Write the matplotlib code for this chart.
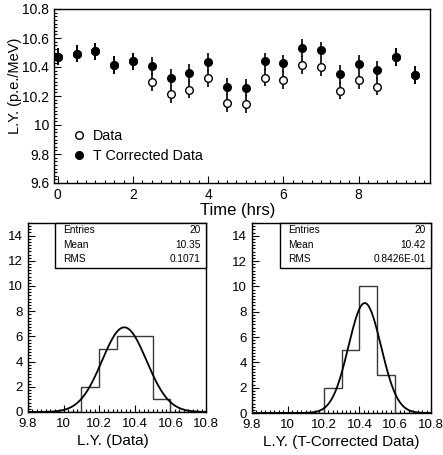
import numpy as np
import matplotlib
matplotlib.use("Agg")
import matplotlib.pyplot as plt
from matplotlib.ticker import MultipleLocator, FuncFormatter
from matplotlib.patches import Rectangle

plt.rcParams['font.family'] = ['Liberation Sans', 'DejaVu Sans']

# time points (hrs)
time_hrs = [0, 0.5, 1, 1.5, 2, 2.5, 3, 3.5, 4, 4.5, 5, 5.5, 6, 6.5, 7, 7.5, 8, 8.5, 9, 9.5]
# light yield, raw data
ly_data = [10.472, 10.493, 10.507, 10.415, 10.438, 10.297, 10.212, 10.244, 10.322, 10.152,
           10.145, 10.327, 10.311, 10.415, 10.398, 10.237, 10.308, 10.265, 10.468, 10.345]
# light yield, temperature corrected
ly_corr = [10.472, 10.493, 10.507, 10.415, 10.438, 10.408, 10.327, 10.359, 10.435, 10.265,
           10.258, 10.438, 10.426, 10.530, 10.514, 10.352, 10.424, 10.378, 10.468, 10.345]
ly_err = [0.06] * 20

hist_bins = [9.8 + 0.1 * i for i in range(11)]

# gaussian fit parameters (amplitude, mean, sigma)
fit_data = (6.72, 10.341, 0.125)
fit_corr = (8.68, 10.43, 0.091)

stats_data = [("Entries", "20"), ("Mean", "10.35"), ("RMS", "0.1071")]
stats_corr = [("Entries", "20"), ("Mean", "10.42"), ("RMS", "0.8426E-01")]

W, H = 443, 455
fig = plt.figure(figsize=(W / 100, H / 100), dpi=100)

def px_axes(l, t, r, b):
    return fig.add_axes([l / W, 1 - b / H, (r - l) / W, (b - t) / H])

fmt = FuncFormatter(lambda v, p: "%g" % round(v, 3))

def root_ticks(ax, size=10):
    ax.tick_params(which='both', direction='in', top=False, right=False, labelsize=size)
    ax.tick_params(which='major', length=5, width=0.8)
    ax.tick_params(which='minor', length=2.5, width=0.8)
    for s in ax.spines.values():
        s.set_linewidth(1.0)

# ---- top panel: L.Y. vs time
ax = px_axes(54, 9, 430, 183)
ax.errorbar(time_hrs, ly_data, yerr=ly_err, fmt='o', ms=5.5, mfc='white', mec='black',
            mew=1.0, ecolor='black', elinewidth=1.2, capsize=0, label='Data')
ax.errorbar(time_hrs, ly_corr, yerr=ly_err, fmt='o', ms=5.5, mfc='black', mec='black',
            ecolor='black', elinewidth=1.2, capsize=0, label='T Corrected Data')
ax.set_xlim(-0.1, 9.9)
ax.set_ylim(9.6, 10.8)
ax.xaxis.set_major_locator(MultipleLocator(2))
ax.xaxis.set_minor_locator(MultipleLocator(0.25))
ax.yaxis.set_major_locator(MultipleLocator(0.2))
ax.yaxis.set_minor_locator(MultipleLocator(0.025))
ax.yaxis.set_major_formatter(fmt)
root_ticks(ax)
ax.set_xlabel("Time (hrs)", fontsize=12)
ax.xaxis.set_label_coords(0.489, -0.115)
ax.set_ylabel("L.Y. (p.e./MeV)", fontsize=10.5)
ax.yaxis.set_label_coords(-0.085, 0.56)
h, l = ax.get_legend_handles_labels()
h = [x[0] for x in h]
ax.legend(h, l, loc='upper left', bbox_to_anchor=(0.02, 0.37), frameon=False,
          fontsize=10.3, handlelength=1.0, handletextpad=0.5, labelspacing=0.45,
          borderpad=0.2)

def hist_panel(ax, values, fit, stats, xlabel, box_left, label_x):
    ax.hist(values, bins=hist_bins, histtype='step', color='#3a3a3a', lw=1.0)
    xs = np.linspace(9.8, 10.8, 400)
    a, m, s = fit
    ax.plot(xs, a * np.exp(-0.5 * ((xs - m) / s) ** 2), color='black', lw=1.3)
    ax.set_xlim(9.8, 10.8)
    ax.set_ylim(0, 15)
    ax.xaxis.set_major_locator(MultipleLocator(0.2))
    ax.xaxis.set_minor_locator(MultipleLocator(0.025))
    ax.yaxis.set_major_locator(MultipleLocator(2))
    ax.yaxis.set_minor_locator(MultipleLocator(0.25))
    ax.xaxis.set_major_formatter(fmt)
    root_ticks(ax, 9.5)
    ax.tick_params(axis='x', pad=4.5)
    ax.add_patch(Rectangle((box_left, 0.762), 1 - box_left, 0.238, transform=ax.transAxes,
                           facecolor='white', edgecolor='black', lw=1.0, clip_on=False, zorder=5))
    for i, (k, v) in enumerate(stats):
        y = 0.962 - i * 0.077
        ax.text(box_left + 0.045, y, k, transform=ax.transAxes, fontsize=7.3, va='center', zorder=6)
        ax.text(0.97, y, v, transform=ax.transAxes, fontsize=7.3, va='center', ha='right', zorder=6)
    ax.set_xlabel(xlabel, fontsize=11)
    ax.xaxis.set_label_coords(label_x, -0.118)

ax1 = px_axes(28, 223, 206, 412)
hist_panel(ax1, ly_data, fit_data, stats_data, "L.Y. (Data)", 0.152, 0.475)
ax2 = px_axes(252, 223, 431, 413)
hist_panel(ax2, ly_corr, fit_corr, stats_corr, "L.Y. (T-Corrected Data)", 0.156, 0.5)

fig.savefig("out.png", dpi=100)
